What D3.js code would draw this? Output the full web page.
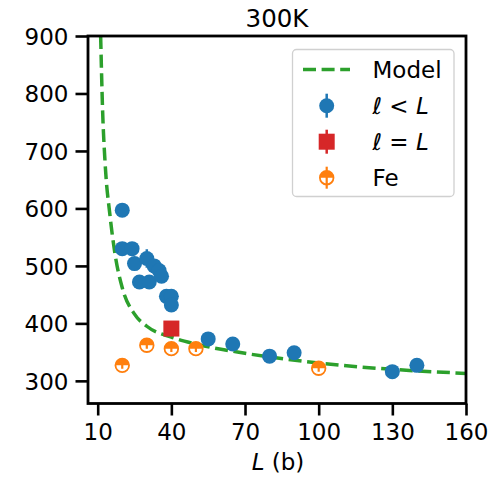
<!DOCTYPE html>
<html>
<head>
<meta charset="utf-8">
<script src="https://cdn.jsdelivr.net/npm/d3@7"></script>
<style>
  html, body { margin: 0; padding: 0; background: #fff; }
  svg { display: block; font-family: "DejaVu Sans", sans-serif; }
</style>
</head>
<body>
<svg id="chart" width="502" height="477"></svg>
<script>
// ---- data ----
const xTicks = [10, 40, 70, 100, 130, 160];
const yTicks = [300, 400, 500, 600, 700, 800, 900];

// Model curve
const modelL = [11.2, 12, 13, 15, 17, 20, 25, 30, 40, 50, 70, 100, 130, 160];
const modelY = [900, 770, 680, 588, 522, 462, 416, 395, 376, 364, 348, 331, 320, 313];

// l < L (blue)
const blueL   = [20, 20, 24, 25, 27, 30, 31, 33, 35, 36, 38, 40, 40, 55, 65, 80, 90, 130, 140];
const blueY   = [597, 530, 530, 504, 472, 513, 472, 500, 492, 482, 447, 447, 432, 373, 364, 343, 349, 316, 327];
const blueErr = [6, 6, 6, 6, 6, 16, 6, 6, 6, 6, 6, 6, 6, 5, 5, 5, 5, 5, 5];

// l = L (red)
const redL = [40];
const redY = [391];
const redErr = [6];

// Fe (orange)
const feL = [20, 30, 40, 50, 100];
const feY = [327, 362, 356, 356, 322];
const feErr = [6, 6, 6, 6, 6];

// ---- layout ----
const svg = d3.select("#chart");
const pL = 88, pR = 466, pT = 36, pB = 403.5;
const x = d3.scaleLinear().domain([6.05, 160]).range([pL, pR]);
const y = d3.scaleLinear().domain([260.6, 900]).range([pB, pT]);

const C = { blue: "#1f77b4", red: "#d62728", orange: "#ff7f0e", green: "#2ca02c" };
const FS = 23;

svg.append("clipPath").attr("id", "clip")
  .append("rect").attr("x", pL).attr("y", pT).attr("width", pR - pL).attr("height", pB - pT);

const plot = svg.append("g").attr("clip-path", "url(#clip)");

// model curve
const line = d3.line().x(d => x(d[0])).y(d => y(d[1])).curve(d3.curveMonotoneX);
plot.append("path")
  .datum(modelL.map((l, i) => [l, modelY[i]]))
  .attr("d", line)
  .attr("fill", "none")
  .attr("stroke", C.green)
  .attr("stroke-width", 3.5)
  .attr("stroke-dasharray", "13,5.6");

// blue points
const blue = blueL.map((l, i) => ({ l, v: blueY[i], e: blueErr[i] }));
plot.selectAll(".beb").data(blue).enter().append("line")
  .attr("x1", d => x(d.l)).attr("x2", d => x(d.l))
  .attr("y1", d => y(d.v - d.e)).attr("y2", d => y(d.v + d.e))
  .attr("stroke", C.blue).attr("stroke-width", 2.5);
plot.selectAll(".bpt").data(blue).enter().append("circle")
  .attr("cx", d => x(d.l)).attr("cy", d => y(d.v)).attr("r", 7.5)
  .attr("fill", C.blue);

// red square
const red = redL.map((l, i) => ({ l, v: redY[i], e: redErr[i] }));
plot.selectAll(".reb").data(red).enter().append("line")
  .attr("x1", d => x(d.l)).attr("x2", d => x(d.l))
  .attr("y1", d => y(d.v - d.e)).attr("y2", d => y(d.v + d.e))
  .attr("stroke", C.red).attr("stroke-width", 2.5);
plot.selectAll(".rpt").data(red).enter().append("rect")
  .attr("x", d => x(d.l) - 8).attr("y", d => y(d.v) - 8)
  .attr("width", 16).attr("height", 16)
  .attr("fill", C.red);

// Fe half-filled markers
function feMarker(g, cx, cy, r, errPx) {
  g.append("line").attr("x1", cx).attr("x2", cx).attr("y1", cy - errPx).attr("y2", cy + errPx)
    .attr("stroke", C.orange).attr("stroke-width", 2.2);
  g.append("path")
    .attr("d", `M${cx - r},${cy} A${r},${r} 0 0 1 ${cx + r},${cy} Z`)
    .attr("fill", C.orange);
  g.append("circle").attr("cx", cx).attr("cy", cy).attr("r", r)
    .attr("fill", "none").attr("stroke", C.orange).attr("stroke-width", 1.8);
}
feL.forEach((l, i) => {
  const g = plot.append("g");
  feMarker(g, x(l), y(feY[i]), 6.8, Math.abs(y(feY[i] - feErr[i]) - y(feY[i])));
});

// ---- axes ----
const xAxis = d3.axisBottom(x).tickValues(xTicks).tickSize(12).tickPadding(8);
const yAxis = d3.axisLeft(y).tickValues(yTicks).tickSize(12.5).tickPadding(7);

const gx = svg.append("g").attr("transform", `translate(0,${pB})`).call(xAxis);
const gy = svg.append("g").attr("transform", `translate(${pL},0)`).call(yAxis);
[gx, gy].forEach(g => {
  g.select(".domain").remove();
  g.selectAll(".tick line").attr("stroke", "#000").attr("stroke-width", 2.6);
  g.selectAll(".tick text").attr("fill", "#000").style("font-size", FS + "px")
    .style("font-family", "DejaVu Sans");
});
gy.selectAll(".tick text").attr("dy", "0.36em");

// spines
svg.append("rect").attr("x", pL).attr("y", pT).attr("width", pR - pL).attr("height", pB - pT)
  .attr("fill", "none").attr("stroke", "#000").attr("stroke-width", 2.8);

// title
svg.append("text").attr("x", (pL + pR) / 2).attr("y", 26.5).attr("text-anchor", "middle")
  .style("font-size", "24.5px").text("300K");

// x label
const xl = svg.append("text").attr("x", (pL + pR) / 2 + 1).attr("y", 469.5).attr("text-anchor", "middle")
  .style("font-size", FS + "px");
xl.append("tspan").attr("font-style", "italic").text("L");
xl.append("tspan").text(" (b)");

// ---- legend ----
const lg = svg.append("g");
lg.append("rect").attr("x", 292.5).attr("y", 49.5).attr("width", 161.5).attr("height", 147)
  .attr("rx", 4).attr("fill", "#fff").attr("fill-opacity", 0.8)
  .attr("stroke", "#d0d0d0").attr("stroke-width", 1.3);
const lx = 326.7, tx = 372.5;
const rows = [69.5, 105.7, 141.7, 177.7];

lg.append("line").attr("x1", 303).attr("x2", 350).attr("y1", rows[0]).attr("y2", rows[0])
  .attr("stroke", C.green).attr("stroke-width", 3.5).attr("stroke-dasharray", "13,5.6");

lg.append("line").attr("x1", lx).attr("x2", lx).attr("y1", rows[1] - 12).attr("y2", rows[1] + 12)
  .attr("stroke", C.blue).attr("stroke-width", 2.5);
lg.append("circle").attr("cx", lx).attr("cy", rows[1]).attr("r", 7.5).attr("fill", C.blue);

lg.append("line").attr("x1", lx).attr("x2", lx).attr("y1", rows[2] - 12).attr("y2", rows[2] + 12)
  .attr("stroke", C.red).attr("stroke-width", 2.5);
lg.append("rect").attr("x", lx - 8).attr("y", rows[2] - 8).attr("width", 16).attr("height", 16).attr("fill", C.red);

feMarker(lg, lx, rows[3], 6.8, 11);

const labels = [
  [{ t: "Model" }],
  [{ t: "ℓ", i: true }, { t: " < " }, { t: "L", i: true }],
  [{ t: "ℓ", i: true }, { t: " = " }, { t: "L", i: true }],
  [{ t: "Fe" }]
];
labels.forEach((parts, k) => {
  const t = lg.append("text").attr("x", tx).attr("y", rows[k]).attr("dy", "0.36em")
    .style("font-size", FS + "px");
  parts.forEach(p => {
    const s = t.append("tspan").text(p.t);
    if (p.i) s.attr("font-style", "italic");
  });
});
</script>
</body>
</html>
